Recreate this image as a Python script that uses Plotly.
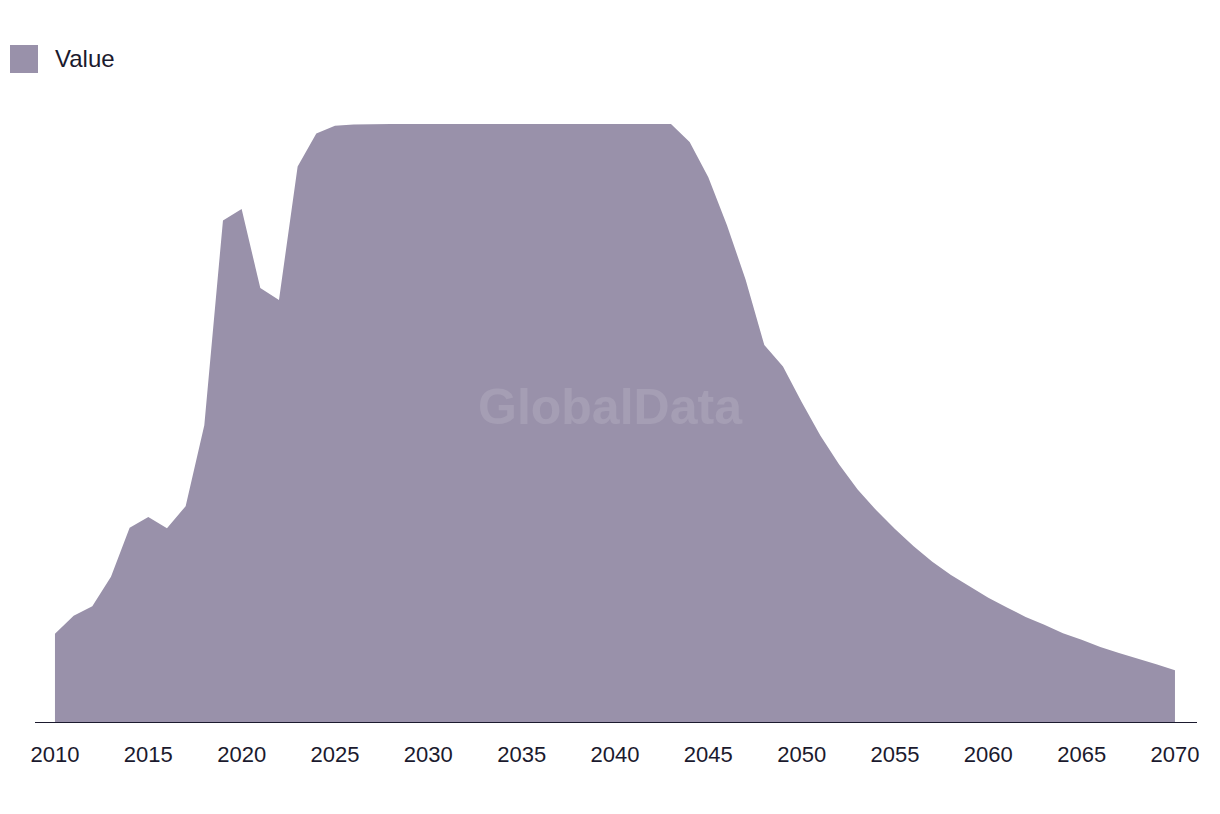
import plotly.graph_objects as go

years = list(range(2010, 2071))
values = [
    14.9, 17.9, 19.5, 24.4, 32.6, 34.4, 32.5, 36.2, 49.7, 83.9,
    85.8, 72.6, 70.6, 92.9, 98.4, 99.7, 99.9, 100, 100, 100,
    100, 100, 100, 100, 100, 100, 100, 100, 100, 100,
    100, 100, 100, 100, 97.0, 91.1, 83.1, 74.0, 63.1, 59.5,
    53.6, 48.0, 43.2, 39.0, 35.5, 32.4, 29.5, 26.9, 24.7, 22.8,
    20.9, 19.3, 17.7, 16.4, 15.0, 13.9, 12.7, 11.7, 10.8, 9.8,
    8.8,
]
tick_years = list(range(2010, 2071, 5))
series_name = "Value"

AREA = "#9991aa"
INK = "#1b1a2e"
FONT = "Liberation Sans, Arial, sans-serif"

fig = go.Figure()
fig.add_trace(go.Scatter(
    x=years, y=values, mode="lines", fill="tozeroy",
    line=dict(width=0, color=AREA), fillcolor=AREA,
    name=series_name, showlegend=False, hoverinfo="x+y",
))

fig.update_layout(
    width=1220, height=814,
    margin=dict(l=35, r=23, t=100, b=91),
    paper_bgcolor="white", plot_bgcolor="white",
    font=dict(family=FONT, color=INK),
    showlegend=False,
    xaxis=dict(
        range=[2008.93, 2071.18], tickmode="array", tickvals=tick_years,
        ticktext=[str(t) for t in tick_years], showgrid=False, zeroline=False,
        showline=False, ticks="", tickfont=dict(size=22, color=INK, family=FONT),
        ticklabelstandoff=16,
    ),
    yaxis=dict(range=[0, 104.0], visible=False, showgrid=False, zeroline=False),
    shapes=[
        dict(type="line", xref="paper", yref="y", x0=0, x1=1, y0=0, y1=0,
             line=dict(color=INK, width=2)),
        dict(type="rect", xref="paper", yref="paper",
             x0=-25/1162, x1=3/1162, y0=(723-45)/623, y1=(723-73)/623,
             fillcolor=AREA, line=dict(width=0)),
    ],
    annotations=[
        dict(text=series_name, xref="paper", yref="paper",
             x=18/1162, y=(723-58)/623, xanchor="left", yanchor="middle",
             showarrow=False, font=dict(size=24, color=INK, family=FONT)),
        dict(text="<b>GlobalData</b>", xref="paper", yref="paper",
             x=(610-35)/1162, y=(723-407)/623, xanchor="center", yanchor="middle",
             showarrow=False,
             font=dict(size=50, color="rgba(255,255,255,0.12)", family=FONT)),
    ],
)

fig.write_html("out.html")
